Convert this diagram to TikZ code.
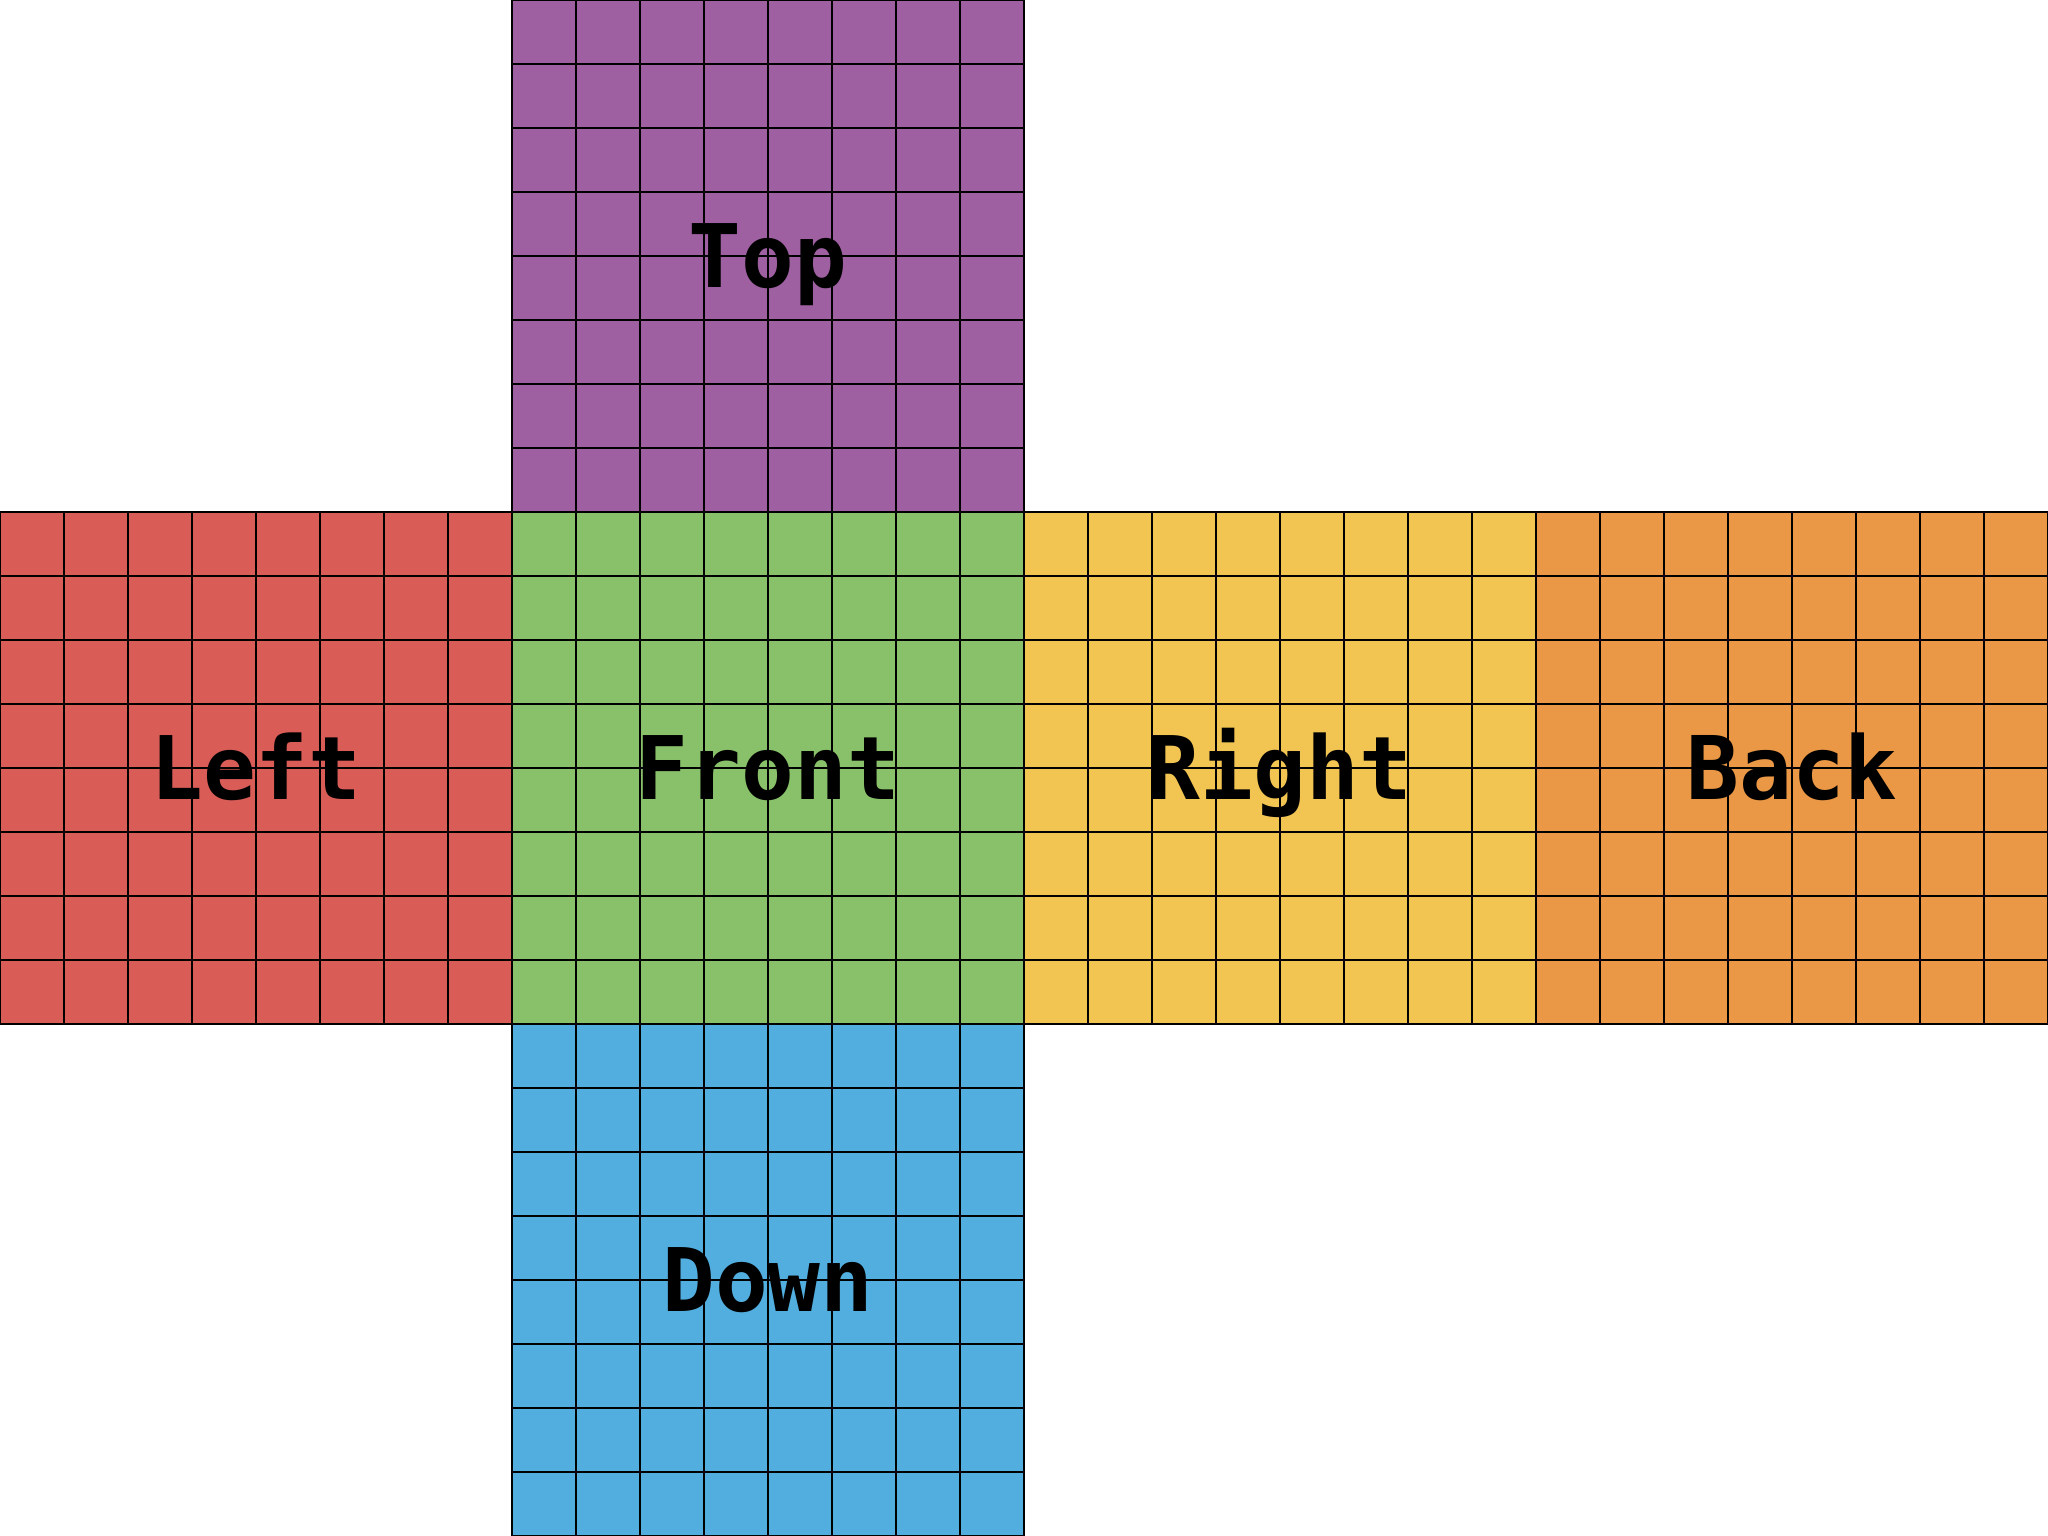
\documentclass[tikz,border=0pt]{standalone}
\usepackage{fontspec}
\setmonofont{DejaVu Sans Mono}
\definecolor{topc}{RGB}{158,96,161}\definecolor{leftc}{RGB}{217,92,87}\definecolor{frontc}{RGB}{137,193,107}
\definecolor{rightc}{RGB}{242,197,82}\definecolor{backc}{RGB}{234,152,69}\definecolor{downc}{RGB}{82,174,223}
\tikzset{grid/.style={line width=0.6pt},facename/.style={font=\ttfamily\bfseries\fontsize{39}{39}\selectfont,anchor=base,yshift=-0.5cm,inner sep=0pt}}

\begin{document}
\begin{tikzpicture}
\useasboundingbox (0,0) rectangle (32,24);
\foreach \x/\y/\c/\n in {8/16/topc/Top,0/8/leftc/Left,8/8/frontc/Front,16/8/rightc/Right,24/8/backc/Back,8/0/downc/Down}{
\fill[\c] (\x,\y) rectangle ++(8,8);
\node[facename] (\n) at (\x+4,\y+4){\n};
\draw[grid] (\x,\y) grid ++(8,8);}
\end{tikzpicture}
\end{document}
